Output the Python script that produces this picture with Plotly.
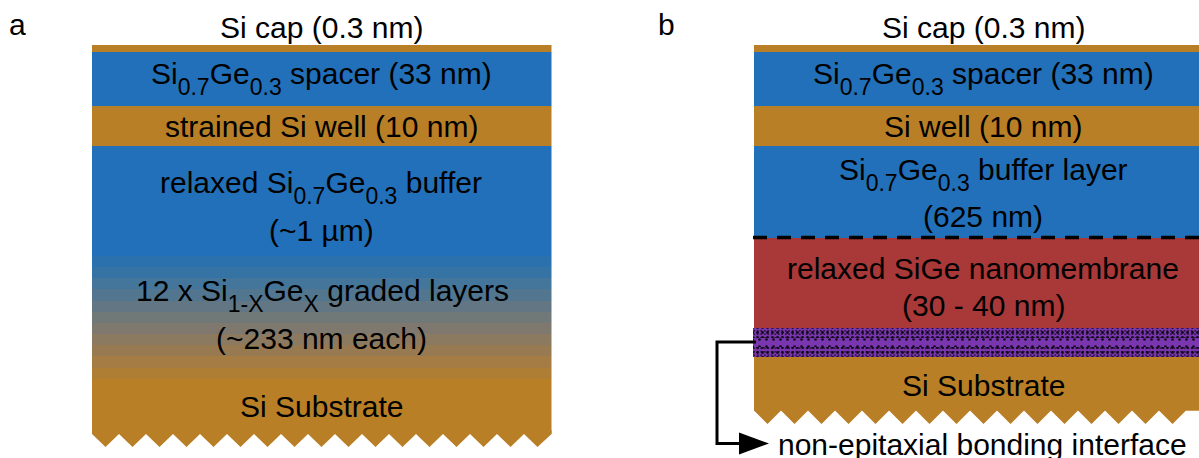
import plotly.graph_objects as go

BLUE = "#2270BA"
ORANGE = "#B97F26"
RED = "#A93838"
PURPLE = "#7A36AE"
FONT = "Liberation Sans"
SIZE = 30
def sb(t):
    return f'<sub><sub><span style="font-size:23px">{t}</span></sub></sub>'

# Panel a layers: (top, bottom) depth in picture units
a_tops = [45, 52, 106, 146, 379]
a_bottoms = [52, 106, 146, 256, 434]
a_colors = [ORANGE, BLUE, ORANGE, BLUE, ORANGE]
graded_tops = [256, 267, 278, 289, 301, 312, 323, 334, 345, 356, 368]
graded_bottoms = [267, 278, 289, 301, 312, 323, 334, 345, 356, 368, 379]
graded_colors = ["#2A71AE", "#3573A4", "#44759A", "#52768F", "#627783", "#707878",
                 "#7F786E", "#8C7A60", "#987A52", "#A47C44", "#AF7E35"]

# Panel b layers
b_tops = [45, 52, 106, 146, 238, 357]
b_bottoms = [52, 106, 146, 238, 328, 410.5]
b_colors = [ORANGE, BLUE, ORANGE, BLUE, RED, ORANGE]
iface_tops = [328, 338, 347]
iface_bottoms = [338, 347, 357]

a_left, a_right = 92, 551.5
b_left, b_right = 754, 1199

a_teeth_top, a_teeth_tip = 434, 447
b_teeth_top, b_teeth_tip = 410.5, 424
tooth_period = 27

labels_a = [
    (321, 27, "Si cap (0.3 nm)"),
    (321, 78, f"Si{sb('0.7')}Ge{sb('0.3')} spacer (33 nm)"),
    (321, 126, "strained Si well (10 nm)"),
    (321, 187, f"relaxed Si{sb('0.7')}Ge{sb('0.3')} buffer"),
    (321, 230, "(~1 µm)"),
    (322, 295, f"12 x Si{sb('1-X')}Ge{sb('X')} graded layers"),
    (321, 338, "(~233 nm each)"),
    (321, 406, "Si Substrate"),
    (17, 24, "a"),
]
labels_b = [
    (983, 27, "Si cap (0.3 nm)"),
    (983, 78, f"Si{sb('0.7')}Ge{sb('0.3')} spacer (33 nm)"),
    (983, 126, "Si well (10 nm)"),
    (983, 174, f"Si{sb('0.7')}Ge{sb('0.3')} buffer layer"),
    (983, 216, "(625 nm)"),
    (983, 268, "relaxed SiGe nanomembrane"),
    (983, 305, "(30 - 40 nm)"),
    (983, 385, "Si Substrate"),
    (982, 444, "non-epitaxial bonding interface"),
    (666, 24, "b"),
]


def layer_bar(left, right, tops, bottoms, colors, **marker):
    return go.Bar(
        x=[(left + right) / 2] * len(tops),
        y=[b - t for t, b in zip(tops, bottoms)],
        base=tops,
        width=right - left,
        marker=dict(color=colors, line=dict(width=0), **marker),
        hoverinfo="skip",
        showlegend=False,
    )


def teeth(left, right, top, tip):
    xs, ys = [left, left], [top - 4, top]
    x = left
    i = 0
    half = tooth_period / 2
    while x + half < right:
        x += half
        i += 1
        xs.append(x)
        ys.append(tip if i % 2 else top)
    xs += [right, right]
    ys += [top if i % 2 == 0 else tip - (tip - top) * (right - x) / half, top - 4]
    return go.Scatter(x=xs, y=ys, mode="lines", fill="toself", fillcolor=ORANGE,
                      line=dict(width=0), hoverinfo="skip", showlegend=False)


def speckle(tops, bottoms, size, solidity):
    return go.Bar(
        x=[(b_left - 1 + b_right) / 2] * len(tops),
        y=[b - t for t, b in zip(tops, bottoms)],
        base=tops,
        width=b_right - b_left + 1,
        marker=dict(color="rgba(0,0,0,0)", line=dict(width=0),
                    pattern=dict(shape=".", fgcolor="#120a1c", bgcolor="rgba(0,0,0,0)",
                                 size=size, solidity=solidity, fillmode="replace")),
        hoverinfo="skip", showlegend=False,
    )


fig = go.Figure()
fig.add_trace(layer_bar(a_left, a_right, a_tops, a_bottoms, a_colors))
fig.add_trace(layer_bar(a_left, a_right, graded_tops, graded_bottoms, graded_colors))
fig.add_trace(layer_bar(b_left, b_right, b_tops, b_bottoms, b_colors))
fig.add_trace(layer_bar(b_left - 1, b_right, iface_tops, iface_bottoms, [PURPLE] * 3))
fig.add_trace(speckle([iface_tops[0], iface_tops[2]], [iface_bottoms[0], iface_bottoms[2]], 5, 0.25))
fig.add_trace(speckle([iface_tops[0], iface_tops[2]], [iface_bottoms[0], iface_bottoms[2]], 3.5, 0.18))
fig.add_trace(speckle([iface_tops[1]], [iface_bottoms[1]], 7, 0.12))
fig.add_trace(teeth(a_left, a_right, a_teeth_top, a_teeth_tip))
fig.add_trace(teeth(b_left, b_right, b_teeth_top, b_teeth_tip))

# dashed interface line
fig.add_trace(go.Scatter(x=[753, b_right], y=[237.5, 237.5], mode="lines",
                         line=dict(color="black", width=3.5, dash="14px,10px"),
                         hoverinfo="skip", showlegend=False))
# connector
fig.add_trace(go.Scatter(x=[756, 717, 717, 745], y=[342, 342, 443.5, 443.5], mode="lines",
                         line=dict(color="black", width=3), hoverinfo="skip", showlegend=False))
fig.add_trace(go.Scatter(x=[739, 769, 739, 739], y=[432.5, 443.5, 454.5, 432.5], mode="lines",
                         fill="toself", fillcolor="black", line=dict(width=0),
                         hoverinfo="skip", showlegend=False))

annotations = [
    dict(x=x, y=y, text=t, showarrow=False, xanchor="center", yanchor="middle",
         font=dict(family=FONT, size=SIZE, color="black"))
    for x, y, t in labels_a + labels_b
]

fig.update_layout(
    barmode="overlay",
    width=1199, height=458,
    margin=dict(l=0, r=0, t=0, b=0),
    paper_bgcolor="white", plot_bgcolor="white",
    xaxis=dict(range=[0, 1199], visible=False, fixedrange=True),
    yaxis=dict(range=[458, 0], visible=False, fixedrange=True),
    annotations=annotations,
    showlegend=False,
)
fig.write_html("out.html", config={"displayModeBar": False},
               post_script="document.body.style.margin='0';document.body.style.overflow='hidden';")
